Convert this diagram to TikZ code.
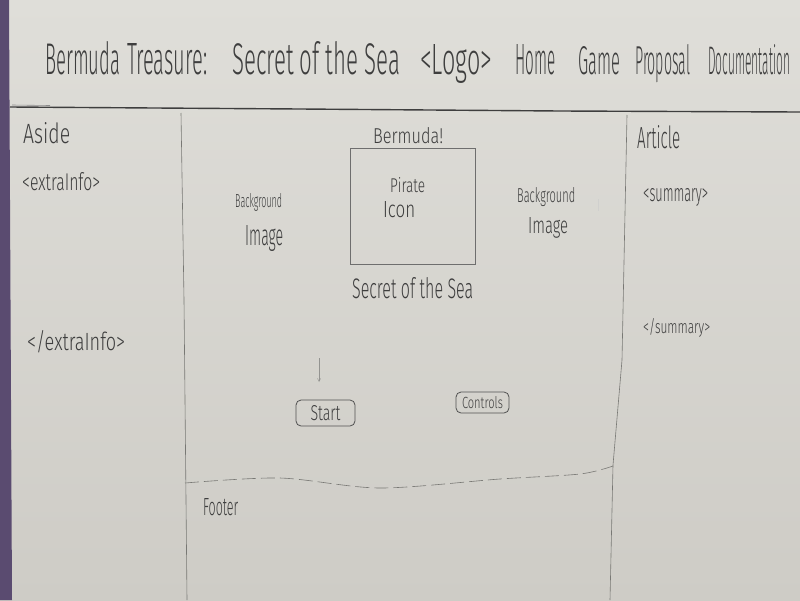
\documentclass[tikz,border=0pt]{standalone}
\usepackage{fontspec}
\usepackage{graphicx}
\usetikzlibrary{arrows.meta}
% thin pencil-like lettering, with the regular weight as a fallback
\IfFontExistsTF{Fira Sans Light}
  {\newfontfamily\hand{Fira Sans Light}}
  {\newfontfamily\hand{Fira Sans}}
\definecolor{papertop}{RGB}{223,222,217}
\definecolor{paperbot}{RGB}{206,204,198}
\definecolor{desk}{RGB}{90,75,112}
\definecolor{pencil}{RGB}{62,62,62}
\definecolor{faint}{RGB}{120,120,116}
% handwritten-style word, scaled to a given width and cap height (in px)
\newcommand{\hw}[3]{\resizebox{#1pt}{#2pt}{\hand #3}}
\tikzset{
  txt/.style={anchor=base west, inner sep=0pt, text=pencil},
  divider/.style={draw=faint, line width=0.6pt},
  btn/.style={draw=pencil!90, line width=0.8pt, rounded corners=5pt, inner sep=0pt, text=pencil},
}
\begin{document}
\begin{tikzpicture}[x=1pt, y=-1pt]
\useasboundingbox (0,0) rectangle (800,600);
% sheet of paper on a purple desk
\shade[top color=papertop, bottom color=paperbot] (0,0) rectangle (800,600);
\fill[desk] (0,0) -- (9,0) -- (12,600) -- (0,600) -- cycle;

% header rule
\draw[draw=pencil, line width=1.4pt] (10,107) -- (300,109) -- (560,111) -- (800,112);
\draw[draw=pencil!60, line width=0.6pt] (12,105) -- (50,105.5);

% column dividers
\draw[divider] (181,113) -- (184,300) -- (187,600);
\draw[divider] (627,115) -- (622,360) -- (613,465) -- (610,600);
% footer separator
\draw[divider, dash pattern=on 14pt off 5pt]
  plot[smooth] coordinates {(185,483) (280,478) (380,488) (500,479) (580,474) (613,466)};

% header text
\node[txt] (t1) at (45,74) {\hw{75}{33}{Bermuda}};
\node[txt] (t2) at (127,74) {\hw{80}{31}{Treasure:}};
\node[txt] (t3) at (232,74) {\hw{168}{33}{Secret of the Sea}};
\node[txt] (t4) at (420,74) {\hw{72}{30}{<Logo>}};
\node[txt] (t5) at (515,74) {\hw{40}{30}{Home}};
\node[txt] (t6) at (578,74) {\hw{42}{28}{Game}};
\node[txt] (t7) at (635,74) {\hw{55}{30}{Proposal}};
\node[txt] (t8) at (708,74) {\hw{82}{30}{Documentation}};

% aside column
\node[txt] (aside) at (23,143) {\hw{47}{21}{Aside}};
\node[txt] (ei1) at (22,190) {\hw{78}{18}{<extraInfo>}};
\node[txt] (ei2) at (27,350) {\hw{98}{20}{</extraInfo>}};

% article column
\node[txt] (article) at (637,148) {\hw{43}{23}{Article}};
\node[txt] (sum1) at (643,201) {\hw{65}{13}{<summary>}};
\node[txt] (sum2) at (643,333) {\hw{67}{15}{</summary>}};

% main area
\node[txt] (bermuda) at (373,143) {\hw{70}{16}{Bermuda!}};
\node[draw=pencil!75, line width=0.7pt, minimum width=125pt, minimum height=116pt, inner sep=0pt]
  (icon) at (412.5,206.5) {};
\node[txt] (pirate) at (390,192) {\hw{35}{15}{Pirate}};
\node[txt] (iconlbl) at (383,217) {\hw{32}{16}{Icon}};
\node[txt] (bgl) at (235,207) {\hw{47}{14}{Background}};
\node[txt] (iml) at (245,245) {\hw{38}{20}{Image}};
\node[txt] (bgr) at (517,202) {\hw{58}{15}{Background}};
\node[txt] (imr) at (528,233) {\hw{40}{16}{Image}};
\node[txt] (secret) at (352,298) {\hw{121}{21}{Secret of the Sea}};

% stray pencil marks
\coordinate (arrtop) at (319,358);
\coordinate (arrbot) at (319,382);
\draw[draw=faint!80, line width=0.5pt, -{Straight Barb[length=3pt,width=3pt]}] (arrtop) -- (arrbot);
\coordinate (tk1) at (598,199);
\coordinate (tk2) at (598,211);
\draw[draw=faint!35, line width=0.4pt] (tk1) -- (tk2);

% buttons
\node[btn, minimum width=59pt, minimum height=26pt] (start) at (325.5,413) {\hw{30}{15}{Start}};
\node[btn, minimum width=53pt, minimum height=21pt] (controls) at (482.5,402.5) {\hw{41}{12}{Controls}};

% footer
\node[txt] (footer) at (203,515) {\hw{35}{17}{Footer}};
\end{tikzpicture}
\end{document}
